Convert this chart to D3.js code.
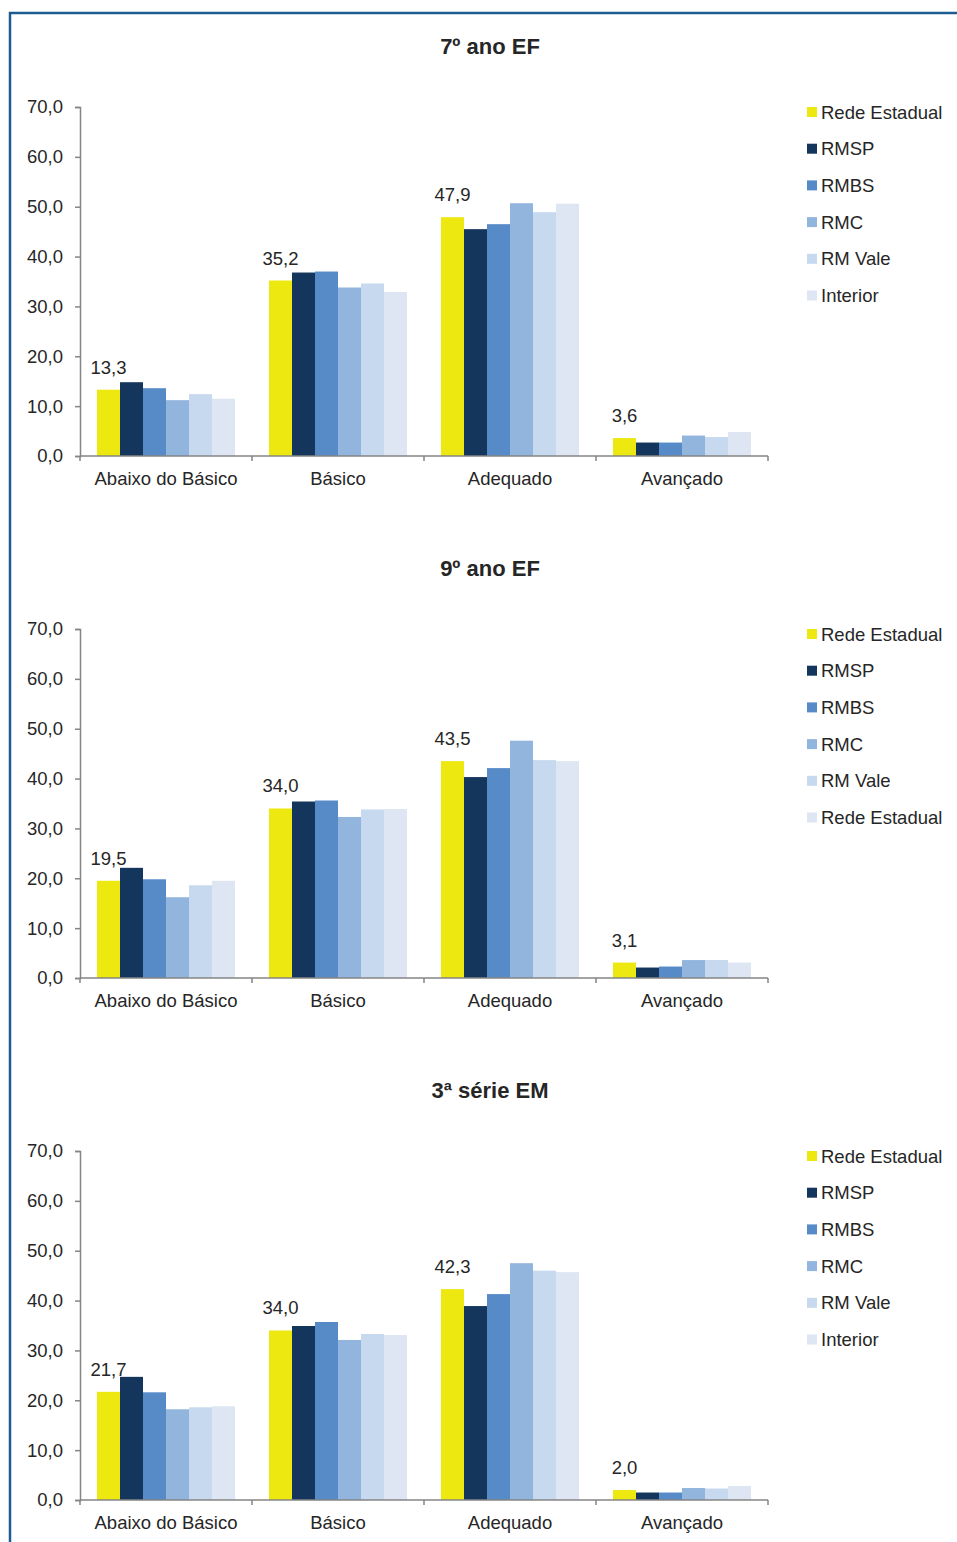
<!DOCTYPE html>
<html><head><meta charset="utf-8">
<script src="https://cdn.jsdelivr.net/npm/d3@7"></script>
<style>
body{margin:0;background:#fff;}
svg{display:block;font-family:"Liberation Sans",Arial,sans-serif;}
</style></head>
<body>
<svg id="chart" width="957" height="1542"></svg>
<script>
const categories = ["Abaixo do Básico", "Básico", "Adequado", "Avançado"];
const seriesNames = ["Rede Estadual", "RMSP", "RMBS", "RMC", "RM Vale", "Interior"];
const colors = ["#EEE811", "#14365C", "#568BC8", "#92B5DE", "#C6D9EF", "#DDE6F2"];
const yTicks = [0, 10, 20, 30, 40, 50, 60, 70];

const titles = ["7º ano EF", "9º ano EF", "3ª série EM"];
const legend1 = ["Rede Estadual", "RMSP", "RMBS", "RMC", "RM Vale", "Interior"];
const legend2 = ["Rede Estadual", "RMSP", "RMBS", "RMC", "RM Vale", "Rede Estadual"];
const legend3 = ["Rede Estadual", "RMSP", "RMBS", "RMC", "RM Vale", "Interior"];

// values per category: [Rede Estadual, RMSP, RMBS, RMC, RM Vale, Interior]
const ano7 = [
  [13.3, 14.8, 13.6, 11.2, 12.4, 11.5],
  [35.2, 36.8, 37.0, 33.8, 34.6, 32.9],
  [47.9, 45.5, 46.5, 50.7, 48.9, 50.6],
  [3.6, 2.7, 2.7, 4.1, 3.8, 4.8]
];
const ano9 = [
  [19.5, 22.1, 19.8, 16.2, 18.6, 19.5],
  [34.0, 35.4, 35.6, 32.3, 33.8, 33.9],
  [43.5, 40.3, 42.1, 47.6, 43.7, 43.5],
  [3.1, 2.1, 2.3, 3.6, 3.6, 3.1]
];
const serie3 = [
  [21.7, 24.7, 21.6, 18.2, 18.6, 18.8],
  [34.0, 34.9, 35.7, 32.1, 33.3, 33.1],
  [42.3, 38.9, 41.3, 47.5, 46.0, 45.7],
  [2.0, 1.5, 1.5, 2.4, 2.3, 2.8]
];

const panels = [
  {title: titles[0], data: ano7, legend: legend1},
  {title: titles[1], data: ano9, legend: legend2},
  {title: titles[2], data: serie3, legend: legend3}
];

const svg = d3.select("#chart");
const fmt = v => d3.format(".1f")(v).replace(".", ",");

// frame
svg.append("path")
  .attr("d", "M10,1542 L10,13 L957,13")
  .attr("fill", "none").attr("stroke", "#1D5C91").attr("stroke-width", 2.5);

const axisColor = "#858585";
const textColor = "#262626";

panels.forEach((p, i) => {
  const off = i * 522;
  const g = svg.append("g").attr("transform", `translate(0,${off})`);
  const y = d3.scaleLinear().domain([0, 70]).range([456, 107]);
  const x = d3.scaleBand().domain(categories).range([80, 768]).padding(0);
  const xs = d3.scaleBand().domain(seriesNames).range([17, x.bandwidth() - 17]).padding(0);
  const color = d3.scaleOrdinal().domain(seriesNames).range(colors);

  g.append("text").attr("x", 490).attr("y", 54).attr("text-anchor", "middle")
    .attr("font-size", 22).attr("font-weight", "bold").attr("fill", textColor).text(p.title);

  // bars
  categories.forEach((c, ci) => {
    const cg = g.append("g").attr("transform", `translate(${x(c)},0)`);
    cg.selectAll("rect").data(p.data[ci].map((v, si) => ({v, s: seriesNames[si]})))
      .join("rect")
      .attr("x", d => xs(d.s)).attr("width", xs.bandwidth())
      .attr("y", d => y(d.v)).attr("height", d => y(0) - y(d.v))
      .attr("fill", d => color(d.s));
    const v0 = p.data[ci][0];
    cg.append("text").attr("x", xs(seriesNames[0]) + xs.bandwidth() / 2).attr("y", y(v0) - 16)
      .attr("text-anchor", "middle").attr("font-size", 18.5).attr("fill", textColor).text(fmt(v0));
  });

  // y axis
  const ya = g.append("g").attr("transform", "translate(80,0)")
    .call(d3.axisLeft(y).tickValues(yTicks).tickFormat(fmt).tickSize(5).tickPadding(12));
  ya.select(".domain").attr("stroke", axisColor).attr("stroke-width", 1.5);
  ya.selectAll(".tick line").attr("stroke", axisColor).attr("stroke-width", 1.5);
  ya.selectAll(".tick text").attr("font-size", 18.5).attr("fill", textColor)
    .attr("font-family", "Liberation Sans, Arial, sans-serif");

  // x axis
  const xa = g.append("g");
  xa.append("line").attr("x1", 80).attr("x2", 768).attr("y1", y(0)).attr("y2", y(0))
    .attr("stroke", axisColor).attr("stroke-width", 1.5);
  const bounds = categories.map(c => x(c)).concat([x(categories[categories.length - 1]) + x.bandwidth()]);
  xa.selectAll("line.tk").data(bounds).join("line").attr("class", "tk")
    .attr("x1", d => d).attr("x2", d => d).attr("y1", y(0)).attr("y2", y(0) + 5)
    .attr("stroke", axisColor).attr("stroke-width", 1.5);
  xa.selectAll("text").data(categories).join("text")
    .attr("x", d => x(d) + x.bandwidth() / 2).attr("y", y(0) + 29)
    .attr("text-anchor", "middle").attr("font-size", 18.5).attr("fill", textColor).text(d => d);

  // legend
  const lg = g.append("g");
  p.legend.forEach((name, li) => {
    const ly = 112 + li * 36.7;
    lg.append("rect").attr("x", 807).attr("y", ly - 5).attr("width", 10).attr("height", 10)
      .attr("fill", colors[li]);
    lg.append("text").attr("x", 821).attr("y", ly + 6.5).attr("font-size", 18.5)
      .attr("fill", textColor).text(name);
  });
});
</script>
</body></html>
